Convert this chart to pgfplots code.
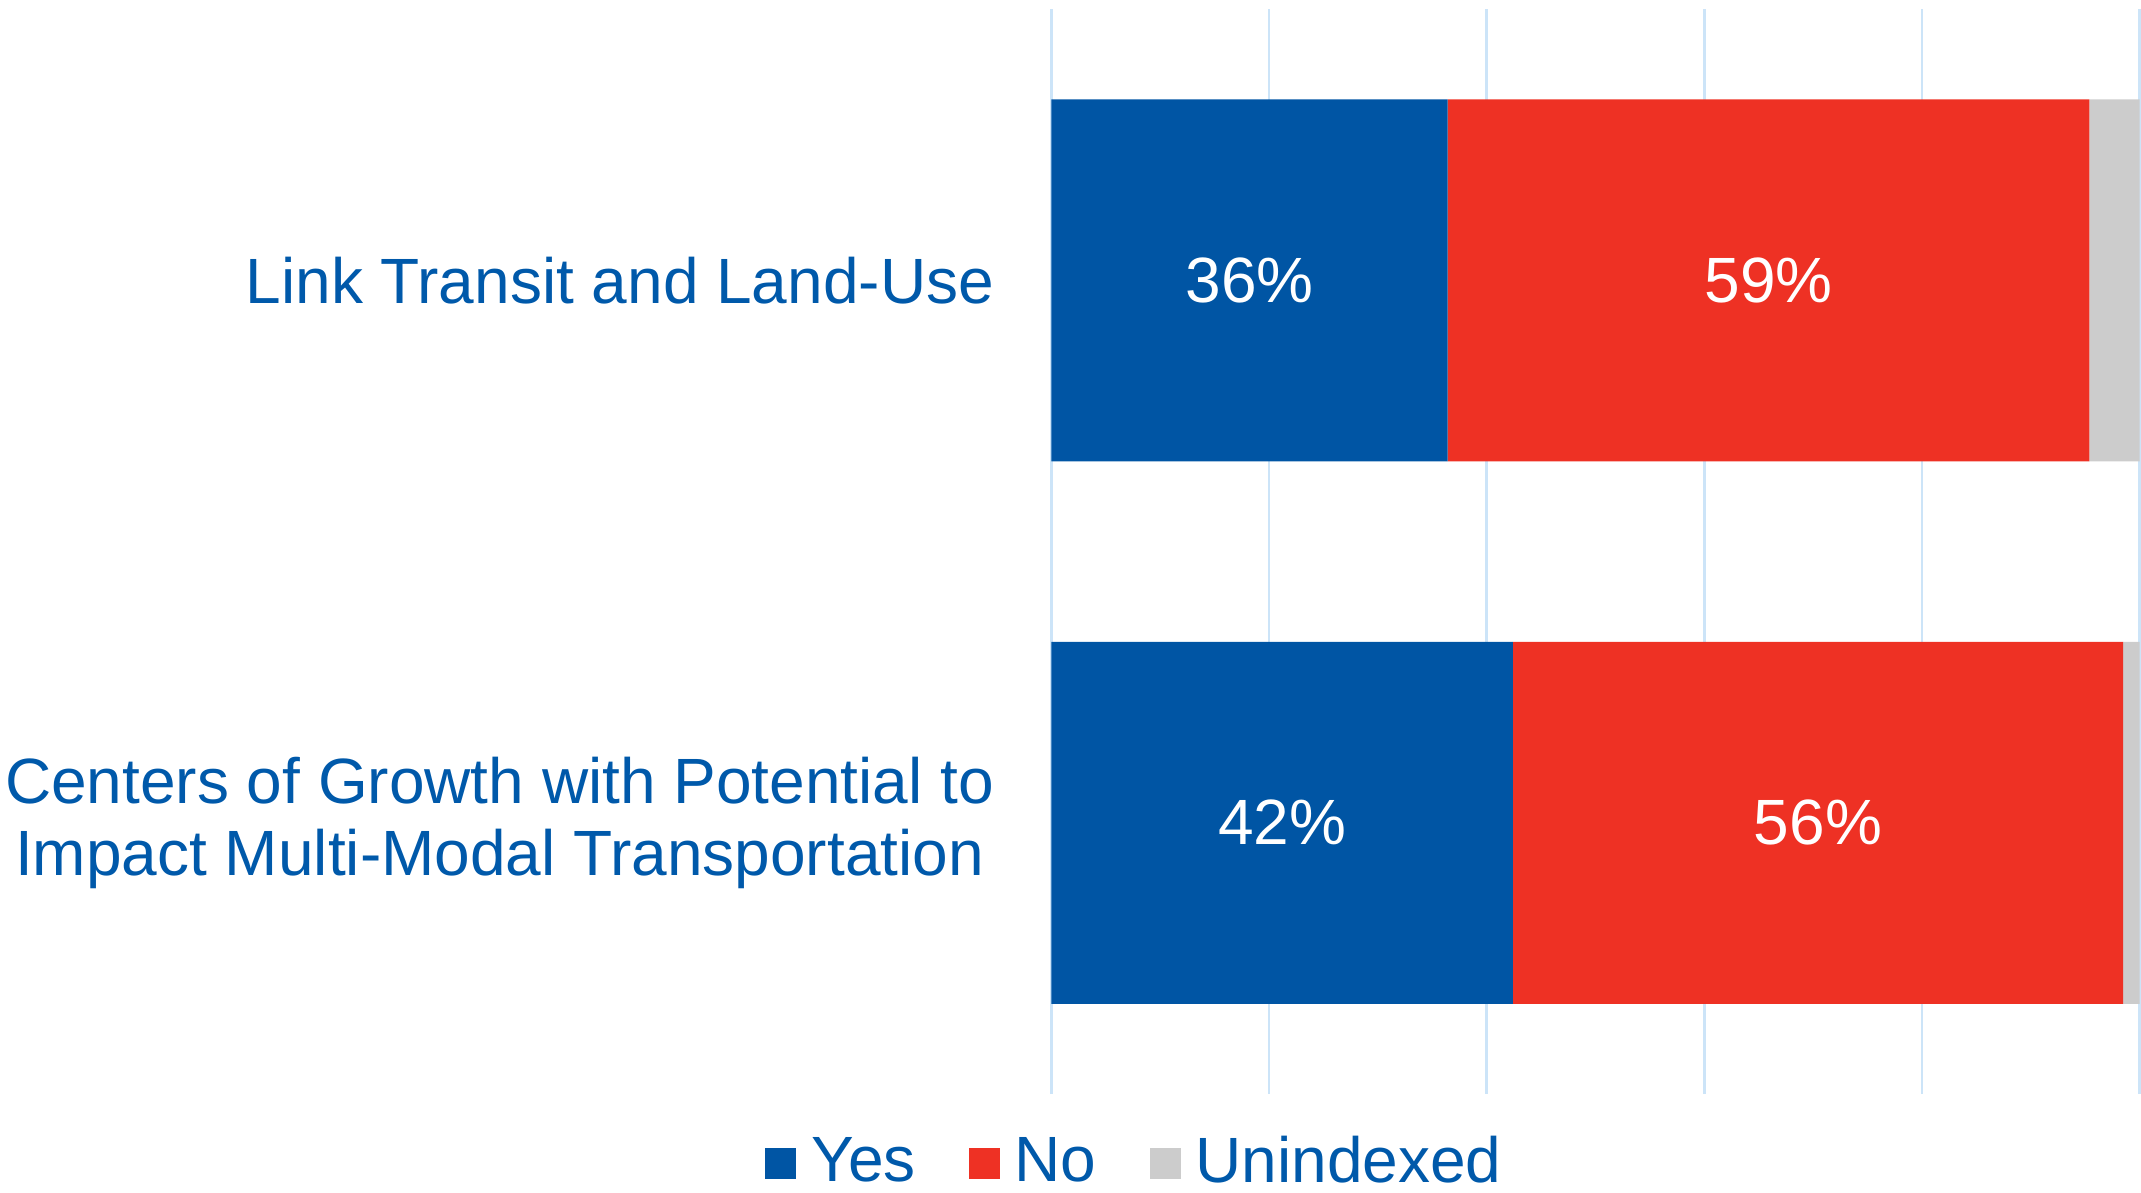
\documentclass[border=0pt]{standalone}
\usepackage{fontspec}
\setmainfont{Liberation Sans}
\usepackage{pgfplots}
\pgfplotsset{compat=1.18}

\definecolor{yescol}{HTML}{0055A4}
\definecolor{nocol}{HTML}{EE3124}
\definecolor{uncol}{HTML}{CCCCCC}
\definecolor{txtcol}{HTML}{0059AA}
\definecolor{gridcol}{HTML}{CCE4F8}
\newcommand{\lbl}{\fontsize{12.8}{14.5}\selectfont}

\begin{document}
\begin{tikzpicture}
\path[use as bounding box] (-210.3pt,-19.6pt) rectangle (217.9pt,218.8pt);
\begin{axis}[
    at={(0,0)}, anchor=south west,
    scale only axis,
    width=217.6pt, height=217pt,
    xbar stacked,
    bar width=72.4pt,
    xmin=0, xmax=100,
    ymin=-0.5, ymax=1.5,
    xtick={0,20,...,100},
    xticklabels={},
    ytick={0,1},
    yticklabels={{Centers of Growth with Potential to\\Impact Multi-Modal Transportation},{Link Transit and Land-Use}},
    yticklabel style={font=\lbl, text=txtcol, align=center, inner sep=0pt, xshift=-11.3pt},
    major tick length=0pt,
    axis line style={draw=none},
    xmajorgrids,
    grid style={gridcol, line width=0.5pt},
    /pgf/number format/assume math mode=true,
    legend columns=-1,
    legend style={at={(0,0)}, anchor=center, xshift=17.4pt, yshift=-13.9pt,
        draw=none, fill=none, font=\lbl, text=txtcol,
        nodes={inner ysep=0pt},
        /tikz/every odd column/.append style={column sep=1pt},
        /tikz/every even column/.append style={column sep=8.6pt}},
    legend image code/.code={\fill[#1] (0pt,-3pt) rectangle (6.2pt,3.2pt);},
  ]
  % Yes
  \addplot[fill=yescol, draw=none,
      point meta=rawx,
      nodes near coords={\pgfmathprintnumber[fixed,precision=0]{\pgfplotspointmeta}\%},
      every node near coord/.append style={anchor=center, text=white, font=\lbl}]
    coordinates {(42.4,0) (36.4,1)};
  % No
  \addplot[fill=nocol, draw=none,
      point meta=rawx,
      nodes near coords={\pgfmathprintnumber[fixed,precision=0]{\pgfplotspointmeta}\%},
      every node near coord/.append style={anchor=center, text=white, font=\lbl}]
    coordinates {(56.1,0) (59.0,1)};
  % Unindexed
  \addplot[fill=uncol, draw=none]
    coordinates {(1.5,0) (4.6,1)};
  \legend{Yes, No, Unindexed}
\end{axis}
\end{tikzpicture}
\end{document}
